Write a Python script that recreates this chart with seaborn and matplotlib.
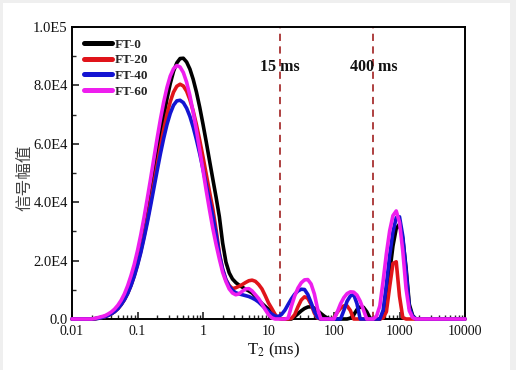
import numpy as np
import pandas as pd
import matplotlib
matplotlib.use('Agg')
import matplotlib.pyplot as plt
import seaborn as sns
from matplotlib.patches import Rectangle
from matplotlib.lines import Line2D
from matplotlib.ticker import FixedLocator, LogLocator, NullFormatter

# ---------------- data ----------------
series_names = ['FT-0', 'FT-20', 'FT-40', 'FT-60']
colors = ['#000000', '#e0141a', '#1414d2', '#ee1eee']

# T2 sampling grid (ms): 0.01, then 0.05-decade steps from 0.02 to ~1778 ms, then 10000
t2_ms = [0.01] + [round(10 ** (k / 20), 5) for k in range(-34, 66)] + [10000.0]

# amplitudes, in thousands
ft0_k = [0,
         0, 0.1, 0.3, 0.6, 0.9, 1.3, 1.8, 2.6, 3.6, 5.0,
         6.8, 9.0, 11.8, 15.2, 19.2, 23.9, 29.3, 35.3, 41.8, 48.6,
         55.6, 62.6, 69.3, 75.4, 80.6, 84.8, 87.7, 89.2, 89.3, 88.0,
         85.6, 82.1, 77.7, 72.5, 66.7, 60.6, 54.2, 47.9, 41.7, 35.0,
         26.0, 19.5, 15.8, 13.7, 12.5, 11.6, 10.9, 10.2, 9.6, 8.9,
         7.8, 6.5, 5.3, 4.3, 3.3, 2.2, 1.0, 0.3, 0.1, 0,
         0, 0, 0.8, 1.8, 2.8, 3.6, 4.1, 4.2, 3.7, 2.9,
         1.9, 1.0, 0.3, 0, 0, 0, 0, 0, 0, 0.3,
         1.4, 3.2, 4.1, 4.0, 2.5, 0.3, 0, 0, 0, 0.8,
         6.0, 16.0, 25.0, 31.0, 32.5, 27.5, 17.5, 5.0, 1.2, 0,
         0]
ft20_k = [0,
          0, 0.1, 0.3, 0.5, 0.8, 1.2, 1.8, 2.5, 3.6, 4.9,
          6.6, 8.8, 11.5, 14.8, 18.7, 23.2, 28.3, 33.9, 40.0, 46.3,
          52.7, 59.0, 64.9, 70.1, 74.4, 77.7, 79.7, 80.4, 79.8, 78.0,
          75.1, 71.2, 66.5, 61.2, 55.5, 49.5, 43.5, 37.7, 30.5, 22.5,
          17.0, 13.5, 11.5, 10.4, 10.7, 11.2, 11.8, 12.5, 13.1, 13.3,
          12.9, 11.8, 10.3, 8.0, 5.5, 3.6, 1.6, 0.3, 0, 0,
          0, 0.2, 1.5, 4.2, 6.5, 7.6, 7.1, 5.0, 2.0, 0.3,
          0, 0, 0, 0, 0.3, 2.3, 3.7, 4.5, 4.5, 2.9,
          0, 0, 0, 0, 0, 0, 0, 0, 0, 0.4,
          2.5, 11.1, 19.0, 19.6, 7.8, 0.5, 0, 0, 0, 0,
          0]
ft40_k = [0,
          0, 0.1, 0.2, 0.5, 0.8, 1.2, 1.8, 2.5, 3.5, 4.9,
          6.6, 8.7, 11.4, 14.6, 18.4, 22.7, 27.7, 33.0, 38.8, 44.8,
          50.8, 56.6, 61.9, 66.6, 70.4, 73.2, 74.7, 74.9, 74.1, 72.2,
          69.4, 65.7, 61.4, 56.6, 51.3, 45.9, 40.5, 35.3, 29.0, 22.0,
          17.0, 13.4, 11.2, 9.8, 9.0, 8.6, 8.3, 8.0, 7.7, 7.2,
          6.6, 5.8, 4.7, 3.6, 2.6, 1.7, 1.0, 0.8, 1.6, 3.0,
          5.0, 6.9, 8.5, 9.6, 10.2, 10.1, 8.4, 5.6, 2.6, 0.5,
          0, 0, 0, 0, 0, 0, 0, 2.9, 6.1, 7.9,
          8.4, 5.3, 0, 0, 0, 0, 0, 0, 0, 3.0,
          11.8, 21.8, 29.8, 34.7, 35.0, 28.4, 16.5, 3.9, 1.0, 0,
          0]
ft60_k = [0,
          0, 0.2, 0.5, 0.8, 1.1, 1.7, 2.4, 3.4, 4.7, 6.4,
          8.6, 11.4, 14.8, 18.7, 23.4, 28.8, 34.8, 41.3, 48.0, 55.0,
          61.9, 68.4, 74.3, 79.3, 83.2, 85.7, 86.8, 86.3, 84.4, 81.1,
          76.5, 70.8, 64.6, 57.8, 50.9, 43.9, 37.3, 31.0, 25.5, 20.5,
          16.0, 12.8, 10.3, 8.9, 8.3, 8.6, 9.5, 10.3, 10.4, 9.6,
          8.3, 7.0, 5.2, 3.2, 1.5, 0.4, 0, 0, 0, 0,
          0.3, 4.4, 7.9, 10.6, 12.4, 13.4, 13.5, 12.0, 8.6, 3.4,
          0, 0, 0, 0, 0, 2.4, 5.2, 7.3, 8.7, 9.3,
          9.2, 8.2, 6.1, 3.1, 0, 0, 0, 1.0, 4.5, 13.0,
          22.4, 30.2, 35.4, 37.0, 33.1, 23.3, 10.4, 2.8, 0.5, 0,
          0]

cutoffs_ms = [15, 400]
cutoff_labels = ['15 ms', '400 ms']

x_ticks = [0.01, 0.1, 1, 10, 100, 1000, 10000]
x_tick_labels = ['0.01', '0.1', '1', '10', '100', '1000', '10000']
y_ticks = [0, 20000, 40000, 60000, 80000, 100000]
y_tick_labels = ['0.0', '2.0E4', '4.0E4', '6.0E4', '8.0E4', '1.0E5']

# ---------------- style ----------------
sns.set_style('ticks')
plt.rcParams['font.family'] = ['Liberation Serif', 'DejaVu Serif']
plt.rcParams['mathtext.fontset'] = 'stix'

frames = []
for name, vals in zip(series_names, [ft0_k, ft20_k, ft40_k, ft60_k]):
    frames.append(pd.DataFrame({'T2': t2_ms,
                                'amp': np.array(vals, dtype=float) * 1000.0,
                                'sample': name}))
df = pd.concat(frames, ignore_index=True)

fig = plt.figure(figsize=(5.16, 3.70), dpi=100, facecolor='#efefef')
bg = Rectangle((3 / 516, 0), 507 / 516, 367 / 370, transform=fig.transFigure,
               facecolor='white', edgecolor='none', zorder=-10)
fig.add_artist(bg)
ax = fig.add_axes([72 / 516, 51 / 370, 393 / 516, 292 / 370])
ax.set_zorder(1)
ax.set_facecolor('white')

sns.lineplot(data=df, x='T2', y='amp', hue='sample', hue_order=series_names,
             palette=colors, estimator=None, sort=False, linewidth=2.6,
             legend=False, ax=ax)
for ln in ax.lines:
    ln.set_clip_on(False)
    ln.set_zorder(3)
    ln.set_solid_joinstyle('round')

ax.set_xscale('log')
ax.set_xlim(0.01, 10000)
ax.set_ylim(0, 100000)

for c, lab in zip(cutoffs_ms, cutoff_labels):
    ax.axvline(c, color='#a83232', lw=1.3, ls=(0, (4, 3)), zorder=1)
    ax.text(c, 86200, lab, ha='center', va='center', fontsize=11.5,
            fontweight='bold', color='#111111')

ax.xaxis.set_major_locator(FixedLocator(x_ticks))
ax.set_xticklabels(x_tick_labels)
ax.xaxis.set_minor_locator(LogLocator(base=10, subs=np.arange(2, 10), numticks=20))
ax.xaxis.set_minor_formatter(NullFormatter())
ax.yaxis.set_major_locator(FixedLocator(y_ticks))
ax.set_yticklabels(y_tick_labels)
ax.yaxis.set_minor_locator(FixedLocator([10000, 30000, 50000, 70000, 90000]))

ax.tick_params(axis='both', which='major', direction='in', length=5, width=1.1,
               colors='#111111', pad=4, top=False, right=False)
ax.tick_params(axis='y', which='major', labelsize=10.5, pad=3)
ax.tick_params(axis='x', which='major', labelsize=10)
ax.tick_params(axis='both', which='minor', direction='in', length=3, width=1.0,
               top=False, right=False)
for s in ax.spines.values():
    s.set_visible(True)
    s.set_linewidth(1.4)
    s.set_color('black')

ax.set_xlabel(r'T$_2$ (ms)', fontsize=12, labelpad=2, color='#111111')
ax.xaxis.label.set_x(0.514)
ax.set_ylabel('信号幅值', fontsize=12, color='#444444',
              family=['Noto Sans CJK SC', 'DejaVu Sans'])
ax.yaxis.set_label_coords(-0.099, 0.483)

handles = [Line2D([0], [0], color=c, lw=3.6) for c in colors]
ax.legend(handles, series_names, loc='upper left', bbox_to_anchor=(0.004, 0.997),
          frameon=False, handlelength=2.1, handletextpad=0.25,
          labelspacing=0.26, borderaxespad=0.4,
          prop={'family': 'Liberation Serif', 'weight': 'bold', 'size': 9.5})

fig.savefig('out.png', dpi=100, facecolor=fig.get_facecolor())
